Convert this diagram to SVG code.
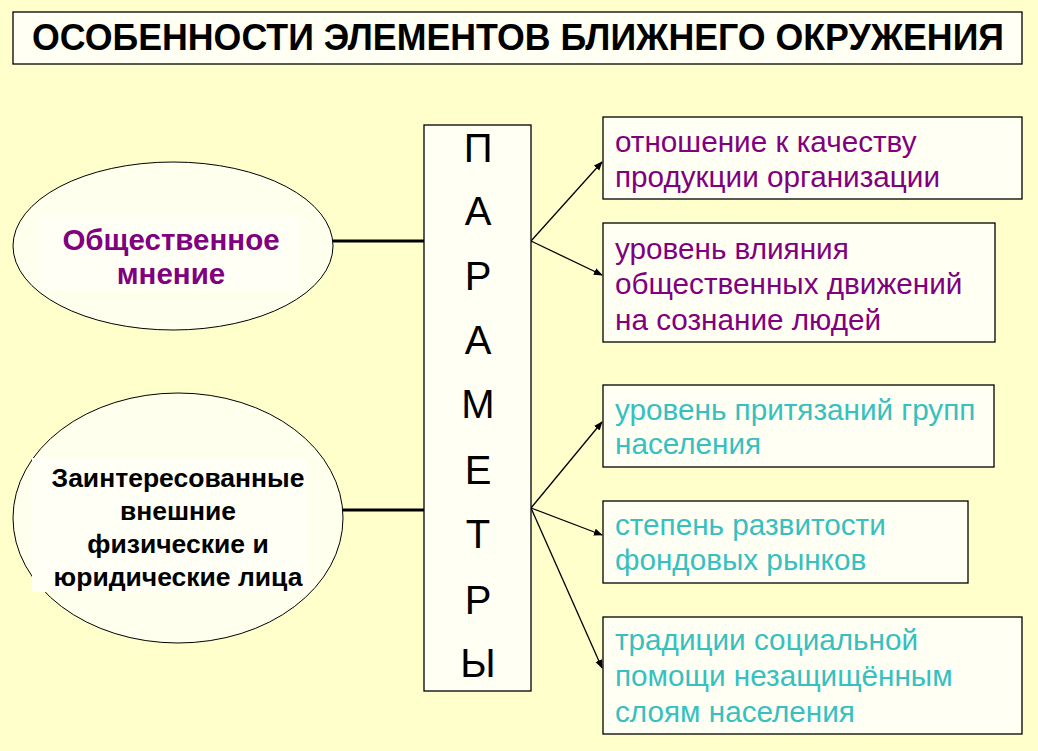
<svg xmlns="http://www.w3.org/2000/svg" width="1038" height="751" viewBox="0 0 1038 751">
<style>
.box{fill:#FFFFF4;stroke:#000;stroke-width:1.3}
.t{font-family:"Liberation Sans",Arial,sans-serif}
.item{font-size:29.7px}
.purple{fill:#800080}
.teal{fill:#36C0C0}
.letter{font-size:40px;fill:#000;text-anchor:middle}
.conn{stroke:#000;fill:none}
</style>
<defs>
<marker id="arr" viewBox="0 0 10 10" refX="9" refY="5" markerWidth="9" markerHeight="9" markerUnits="userSpaceOnUse" orient="auto">
<path d="M0,1 L10,5 L0,9 z" fill="#000"/>
</marker>
</defs>
<rect width="1038" height="751" fill="#FFFFCC"/>
<g id="title">
<rect x="13" y="12" width="1009" height="52" class="box"/>
<text x="518" y="50" class="t" font-size="36" font-weight="bold" text-anchor="middle" textLength="972" lengthAdjust="spacingAndGlyphs">ОСОБЕННОСТИ ЭЛЕМЕНТОВ БЛИЖНЕГО ОКРУЖЕНИЯ</text>
</g>
<g id="connectors">
<line x1="333" y1="241" x2="424" y2="241" class="conn" stroke-width="3"/>
<line x1="343" y1="510" x2="424" y2="510" class="conn" stroke-width="3"/>
<line x1="531" y1="241" x2="602" y2="162" class="conn" stroke-width="1.3" marker-end="url(#arr)"/>
<line x1="531" y1="241" x2="602" y2="275" class="conn" stroke-width="1.3" marker-end="url(#arr)"/>
<line x1="531" y1="508" x2="602" y2="422" class="conn" stroke-width="1.3" marker-end="url(#arr)"/>
<line x1="531" y1="508" x2="602" y2="535" class="conn" stroke-width="1.3" marker-end="url(#arr)"/>
<line x1="531" y1="508" x2="602" y2="668" class="conn" stroke-width="1.3" marker-end="url(#arr)"/>
</g>
<g id="opinion">
<ellipse cx="173" cy="246" rx="160" ry="84" fill="#FFFFEE" stroke="#000" stroke-width="1"/>
<rect x="40" y="215" width="260" height="75" fill="#FFFFF6"/>
<text class="t purple" font-size="29.5" font-weight="bold" text-anchor="middle"><tspan x="171" y="250">Общественное</tspan><tspan x="171" y="284">мнение</tspan></text>
</g>
<g id="persons">
<ellipse cx="178" cy="518" rx="165" ry="125" fill="#FFFFEE" stroke="#000" stroke-width="1"/>
<rect x="32" y="458" width="275" height="134" fill="#FFFFF6"/>
<text class="t" font-size="26.5" font-weight="bold" fill="#000" text-anchor="middle"><tspan x="178" y="487">Заинтересованные</tspan><tspan x="178" y="520">внешние</tspan><tspan x="178" y="553">физические и</tspan><tspan x="178" y="586">юридические лица</tspan></text>
</g>
<g id="params">
<rect x="424" y="125" width="107" height="566" class="box"/>
<text class="t letter"><tspan x="478" y="162">П</tspan><tspan x="478" y="225">А</tspan><tspan x="478" y="290">Р</tspan><tspan x="478" y="354">А</tspan><tspan x="478" y="418">М</tspan><tspan x="478" y="484">Е</tspan><tspan x="478" y="548">Т</tspan><tspan x="478" y="614">Р</tspan><tspan x="478" y="677">Ы</tspan></text>
</g>
<g id="p1">
<rect x="603" y="117" width="419" height="82" class="box"/>
<text class="t item purple"><tspan x="615" y="152">отношение к качеству</tspan><tspan x="615" y="187">продукции организации</tspan></text>
</g>
<g id="p2">
<rect x="603" y="223" width="392" height="119" class="box"/>
<text class="t item purple"><tspan x="615" y="259">уровень влияния</tspan><tspan x="615" y="294">общественных движений</tspan><tspan x="615" y="330">на сознание людей</tspan></text>
</g>
<g id="p3">
<rect x="603" y="385" width="391" height="82" class="box"/>
<text class="t item teal"><tspan x="615" y="420">уровень притязаний групп</tspan><tspan x="615" y="454">населения</tspan></text>
</g>
<g id="p4">
<rect x="603" y="501" width="365" height="82" class="box"/>
<text class="t item teal"><tspan x="615" y="535">степень развитости</tspan><tspan x="615" y="570">фондовых рынков</tspan></text>
</g>
<g id="p5">
<rect x="603" y="617" width="419" height="117" class="box"/>
<text class="t item teal"><tspan x="615" y="650">традиции социальной</tspan><tspan x="615" y="686">помощи незащищённым</tspan><tspan x="615" y="722">слоям населения</tspan></text>
</g>
</svg>
